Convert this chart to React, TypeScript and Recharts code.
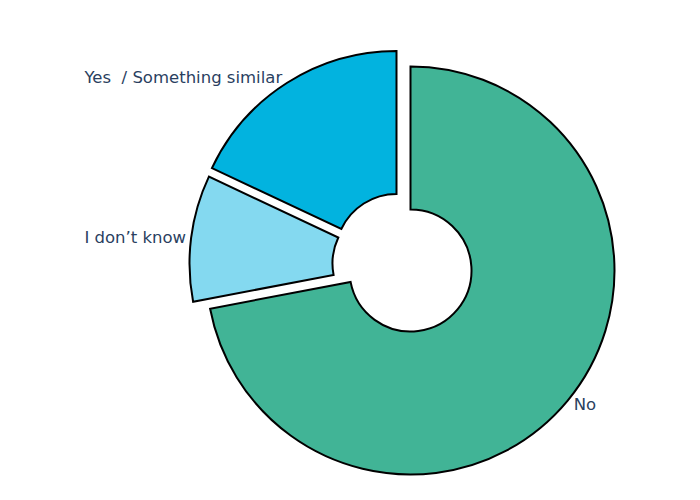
import { PieChart, Pie, Cell } from "recharts";

const LABELS = ["Yes  / Something similar", "I don’t know", "No"];
const VALUES = [18, 10, 72];
const COLORS = ["#02b3df", "#84d9f0", "#41b496"];

// how far each slice is pulled out of the pie (px)
const PULLS = [
  { dx: -14, dy: -15.5 },
  { dx: -17, dy: -7 },
  { dx: 0, dy: 0 },
];

const CX = 410.5;
const CY = 270.5;
const RAD = Math.PI / 180;
const TEXT = "#2a3f5f";

const data = LABELS.map((name, i) => ({ name, value: VALUES[i] }));

function renderLabel(props: any, k: number) {
  const { cx, cy, midAngle, outerRadius, index } = props;
  if (index !== k) return null;
  const cos = Math.cos(-midAngle * RAD);
  const sin = Math.sin(-midAngle * RAD);
  const px = cx + outerRadius * cos;
  const py = cy + outerRadius * sin;
  const right = cos >= 0;
  return (
    <text
      x={px + (right ? 6 : -5)}
      y={py + 6 * sin}
      textAnchor={right ? "start" : "end"}
      dominantBaseline="central"
      fill={TEXT}
      fontSize={16.5}
      fontFamily="DejaVu Sans, Verdana, sans-serif"
      style={{ whiteSpace: "pre" }}
    >
      {LABELS[k]}
    </text>
  );
}

export default function App() {
  const order = [2, 0, 1];
  return (
    <div style={{ position: "absolute", left: 0, top: 0, width: 700, height: 500, background: "#fff" }}>
      <PieChart width={700} height={500} margin={{ top: 0, right: 0, bottom: 0, left: 0 }}>
        {order.map((k) => (
          <Pie
            key={k}
            data={data}
            dataKey="value"
            nameKey="name"
            cx={CX + PULLS[k].dx}
            cy={CY + PULLS[k].dy}
            innerRadius={61}
            outerRadius={204}
            startAngle={90}
            endAngle={450}
            isAnimationActive={false}
            labelLine={false}
            label={(p: any) => renderLabel(p, k)}
          >
            {data.map((_, i) => (
              <Cell
                key={i}
                fill={i === k ? COLORS[i] : "none"}
                stroke={i === k ? "#000" : "none"}
                strokeWidth={2}
              />
            ))}
          </Pie>
        ))}
      </PieChart>
    </div>
  );
}
